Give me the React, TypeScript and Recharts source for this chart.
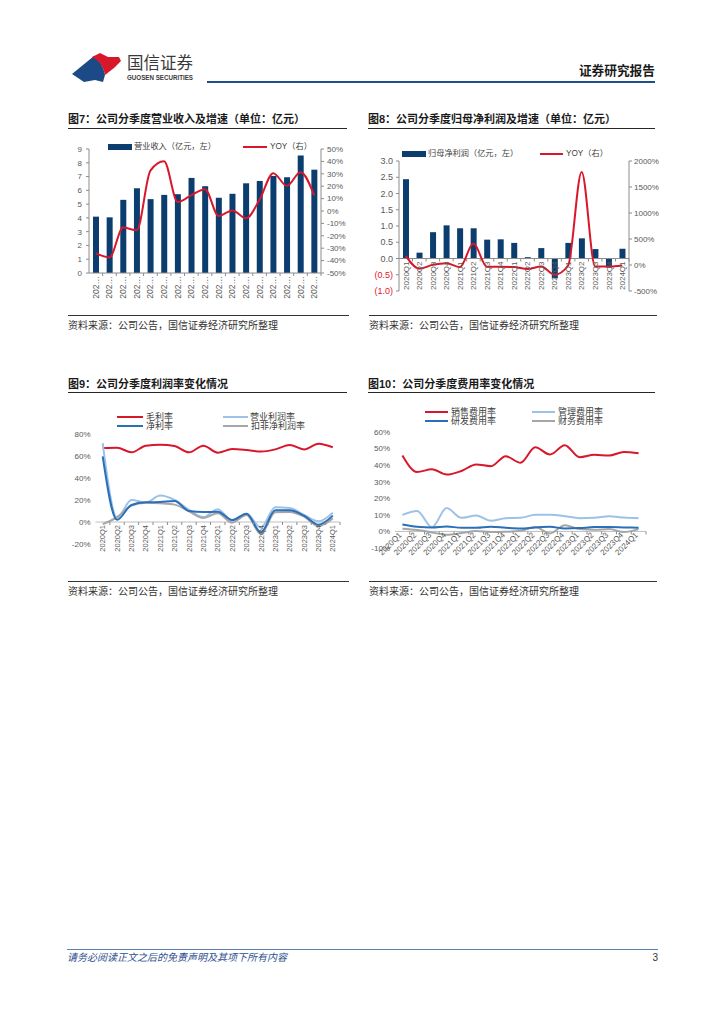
import React from 'react'
import { ComposedChart, Bar, Line, XAxis, YAxis, ReferenceLine } from 'recharts'

// 季度
const quarters = ['2020Q1', '2020Q2', '2020Q3', '2020Q4', '2021Q1', '2021Q2', '2021Q3', '2021Q4', '2022Q1', '2022Q2', '2022Q3', '2022Q4', '2023Q1', '2023Q2', '2023Q3', '2023Q4', '2024Q1']

// 图7 营业收入（亿元）及同比（%）
const revenue = [4.09, 4.04, 5.31, 6.15, 5.36, 5.67, 5.72, 6.9, 6.3, 5.46, 5.75, 6.51, 6.68, 7.04, 6.95, 8.53, 7.5]
const revenueYoy = [-34.2, -37.4, -13.4, -15.5, 32.6, 40.1, 7.2, 12.8, 17.6, -4, 0.5, -5.9, 9.1, 30.5, 20.3, 31.3, 12.6]
const revenueTicks = [0, 1, 2, 3, 4, 5, 6, 7, 8, 9]
const revenueYoyTicks = [-50, -40, -30, -20, -10, 0, 10, 20, 30, 40, 50]

// 图8 归母净利润（亿元）及同比（%）
const netProfit = [2.44, 0.18, 0.81, 1.02, 0.93, 0.93, 0.58, 0.59, 0.48, 0.04, 0.32, -0.61, 0.48, 0.62, 0.29, -0.28, 0.3]
const netProfitYoy = [176, -70, 4, 36, -41, 412, -35, -35, -40, -79, -28, -187, -10, 1790, -30, -30, -10]
const netProfitTicks = [-1, -0.5, 0, 0.5, 1, 1.5, 2, 2.5, 3]
const netProfitYoyTicks = [-500, 0, 500, 1000, 1500, 2000]

// 图9 利润率（%）
const grossMargin = [67.3, 67.6, 63.3, 69.4, 70.3, 69, 63.3, 69.4, 63, 66.4, 65.5, 64, 66, 70, 66, 71.2, 67.9]
const opMargin = [71.8, 4, 20, 17.6, 24, 20, 11, 4.5, 11.5, 1.2, 7.6, -5, 13.3, 12.7, 6.4, 0.6, 8.5]
const netMargin = [59.7, 2, 15.5, 17.9, 18.2, 19, 10, 9, 9.4, 1.8, 7.6, -9.4, 10.6, 10.6, 5.8, -2.4, 5.8]
const deductedMargin = [-2, 4.5, 15, 17.6, 17, 15.8, 9.7, 3.6, 7.9, -0.6, 6.4, -10.9, 8.8, 9, 4.8, -3.6, 3.3]
const marginTicks = [-20, 0, 20, 40, 60, 80]

// 图10 费用率（%）
const sellingRate = [45.8, 35.9, 37.5, 34.3, 36.5, 40.4, 39.4, 45.4, 41.4, 50.8, 46.4, 52, 44.8, 46.2, 45.8, 48, 47.2]
const adminRate = [10, 12.4, 2.6, 14.1, 8.2, 9.6, 6.4, 8, 8.2, 10, 10, 9.2, 8, 8.2, 9.2, 8.4, 8]
const rdRate = [4.2, 2.8, 2.4, 3, 2.2, 2.2, 2.8, 2.2, 1.8, 2.4, 2.8, 1.8, 2, 2.6, 2.6, 2.4, 2.2]
const financeRate = [1.6, 0.8, -0.6, -2, -1, 0.2, -0.4, -0.2, 0.4, 2.6, -1.2, 3.8, 1.4, 1, 1.4, -0.4, 1.4]
const expenseTicks = [-10, 0, 10, 20, 30, 40, 50, 60]

const FONT = '"Liberation Sans", Arial, "Noto Sans CJK SC", sans-serif'
const NAVY = '#0b3d6f'
const RED = '#d9172b'
const LIGHT_BLUE = '#9cc2e8'
const BLUE = '#2a6fb8'
const GREY = '#a6a6a6'
const AXIS = '#8c8c8c'
const LABEL = '#595959'

const pct = (v: number) => `${v}%`

function QuarterTick({ x, payload, baseY, angle, band, fontSize, short }: any) {
  const text = short ? payload.value.slice(0, 3) + '…' : payload.value
  return (
    <g transform={`translate(${x},${baseY})`}>
      <line x1={band / 2} x2={band / 2} y1={0} y2={3} stroke={AXIS} />
      <text x={-3} y={0} dy="0.35em" transform={`rotate(${angle})`} textAnchor="end" fontSize={fontSize} fill={LABEL} fontFamily={FONT}>
        {text}
      </text>
    </g>
  )
}

function ProfitTick({ x, y, payload }: any) {
  const v = payload.value
  const neg = v < 0
  return (
    <text x={x} y={y} dy="0.35em" textAnchor="end" fontSize={9} fill={neg ? '#e0202a' : LABEL} fontFamily={FONT}>
      {neg ? `(${Math.abs(v).toFixed(1)})` : v.toFixed(1)}
    </text>
  )
}

function Box({ left, top, children }: any) {
  return <div style={{ position: 'absolute', left, top }}>{children}</div>
}

function Title({ left, top, width, lineTop, text }: any) {
  return (
    <>
      <div style={{ position: 'absolute', left, top, fontSize: 11, lineHeight: '14px', fontWeight: 'bold', color: '#1a1a1a', whiteSpace: 'nowrap' }}>{text}</div>
      <div style={{ position: 'absolute', left, top: lineTop, width, height: 0, borderTop: '1.5px solid #262626' }} />
    </>
  )
}

function Source({ left, top, width, lineTop }: any) {
  return (
    <>
      <div style={{ position: 'absolute', left, top: lineTop, width, height: 0, borderTop: '1px solid #333' }} />
      <div style={{ position: 'absolute', left, top, fontSize: 10, lineHeight: '12px', color: '#333', whiteSpace: 'nowrap' }}>资料来源：公司公告，国信证券经济研究所整理</div>
    </>
  )
}

function LegendItem({ x, y, swatch, color, label, textX, fontSize = 9 }: any) {
  return (
    <>
      {swatch.kind === 'bar' ? (
        <div style={{ position: 'absolute', left: x, top: y - 3, width: swatch.w, height: 6, background: color }} />
      ) : (
        <div style={{ position: 'absolute', left: x, top: y - 1, width: swatch.w, height: 2, background: color }} />
      )}
      <div style={{ position: 'absolute', left: textX, top: y - 6, fontSize, lineHeight: '12px', color: '#404040', whiteSpace: 'nowrap' }}>{label}</div>
    </>
  )
}

function RevenueChart() {
  const data = quarters.map((q, i) => ({ q, revenue: revenue[i], yoy: revenueYoy[i] }))
  const band = (300 - 29 - 39) / quarters.length
  return (
    <ComposedChart width={300} height={175} data={data} margin={{ top: 14, right: 0, bottom: 0, left: 0 }}>
      <XAxis dataKey="q" scale="band" height={37} interval={0} axisLine={{ stroke: AXIS }} tickLine={false}
        tick={(p: any) => <QuarterTick {...p} baseY={138} angle={-90} band={band} fontSize={8.5} short />} />
      <YAxis yAxisId="left" domain={[0, 9]} ticks={revenueTicks} interval={0} width={29} tickSize={3} tickMargin={4}
        axisLine={{ stroke: AXIS }} tickLine={{ stroke: AXIS }} tick={{ fontSize: 8, fill: LABEL, fontFamily: FONT }} />
      <YAxis yAxisId="right" orientation="right" domain={[-50, 50]} ticks={revenueYoyTicks} interval={0} width={39} tickSize={3} tickMargin={3}
        axisLine={{ stroke: AXIS }} tickLine={{ stroke: AXIS }} tickFormatter={pct} tick={{ fontSize: 8, fill: LABEL, fontFamily: FONT }} />
      <Bar yAxisId="left" dataKey="revenue" fill={NAVY} barSize={6} isAnimationActive={false} />
      <Line yAxisId="right" dataKey="yoy" type="monotone" stroke={RED} strokeWidth={2} dot={false} activeDot={false} isAnimationActive={false} />
    </ComposedChart>
  )
}

function ProfitChart() {
  const data = quarters.map((q, i) => ({ q, profit: netProfit[i], yoy: netProfitYoy[i] }))
  const band = (300 - 39 - 31) / quarters.length
  const zeroY = 11 + 130 * 3 / 4
  return (
    <ComposedChart width={300} height={150} data={data} margin={{ top: 11, right: 0, bottom: 0, left: 0 }}>
      <XAxis dataKey="q" scale="band" height={9} interval={0} axisLine={false} tickLine={false}
        tick={(p: any) => <QuarterTick {...p} baseY={zeroY} angle={-90} band={band} fontSize={8} />} />
      <YAxis yAxisId="left" domain={[-1, 3]} ticks={netProfitTicks} interval={0} width={39} tickSize={3} tickMargin={3}
        axisLine={{ stroke: AXIS }} tickLine={{ stroke: AXIS }} tick={<ProfitTick />} />
      <YAxis yAxisId="right" orientation="right" domain={[-500, 2000]} ticks={netProfitYoyTicks} interval={0} width={31} tickSize={3} tickMargin={2}
        axisLine={{ stroke: AXIS }} tickLine={{ stroke: AXIS }} tickFormatter={pct} tick={{ fontSize: 8, fill: LABEL, fontFamily: FONT }} />
      <ReferenceLine yAxisId="left" y={0} stroke={AXIS} />
      <Bar yAxisId="left" dataKey="profit" fill={NAVY} barSize={6} isAnimationActive={false} />
      <Line yAxisId="right" dataKey="yoy" type="monotone" stroke={RED} strokeWidth={2} dot={false} activeDot={false} isAnimationActive={false} />
    </ComposedChart>
  )
}

function MarginChart() {
  const data = quarters.map((q, i) => ({ q, gross: grossMargin[i], op: opMargin[i], net: netMargin[i], ded: deductedMargin[i] }))
  const band = (300 - 35.5 - 20) / quarters.length
  const zeroY = 39 + 110 * 0.8
  return (
    <ComposedChart width={300} height={185} data={data} margin={{ top: 39, right: 20, bottom: 0, left: 0 }}>
      <XAxis dataKey="q" scale="band" height={36} interval={0} axisLine={false} tickLine={false}
        tick={(p: any) => <QuarterTick {...p} baseY={zeroY} angle={-90} band={band} fontSize={7.5} />} />
      <YAxis domain={[-20, 80]} ticks={marginTicks} interval={0} width={35.5} tickSize={3} tickMargin={2}
        axisLine={false} tickLine={false} tickFormatter={pct} tick={{ fontSize: 8, fill: LABEL, fontFamily: FONT }} />
      <ReferenceLine y={0} stroke="#bfbfbf" />
      <Line dataKey="gross" type="monotone" stroke={RED} strokeWidth={2} dot={false} activeDot={false} isAnimationActive={false} />
      <Line dataKey="op" type="monotone" stroke={LIGHT_BLUE} strokeWidth={2} dot={false} activeDot={false} isAnimationActive={false} />
      <Line dataKey="ded" type="monotone" stroke={GREY} strokeWidth={2} dot={false} activeDot={false} isAnimationActive={false} />
      <Line dataKey="net" type="monotone" stroke={BLUE} strokeWidth={2} dot={false} activeDot={false} isAnimationActive={false} />
    </ComposedChart>
  )
}

function ExpenseChart() {
  const data = quarters.map((q, i) => ({ q, selling: sellingRate[i], admin: adminRate[i], rd: rdRate[i], fin: financeRate[i] }))
  const band = (300 - 35 - 14) / quarters.length
  const zeroY = 37 + 116 * 60 / 70
  return (
    <ComposedChart width={300} height={185} data={data} margin={{ top: 37, right: 14, bottom: 0, left: 0 }}>
      <XAxis dataKey="q" scale="band" height={32} interval={0} axisLine={false} tickLine={false}
        tick={(p: any) => <QuarterTick {...p} baseY={zeroY} angle={-45} band={band} fontSize={8} />} />
      <YAxis domain={[-10, 60]} ticks={expenseTicks} interval={0} width={35} tickSize={3} tickMargin={2}
        axisLine={false} tickLine={false} tickFormatter={pct} tick={{ fontSize: 8, fill: LABEL, fontFamily: FONT }} />
      <ReferenceLine y={0} stroke="#bfbfbf" />
      <Line dataKey="selling" type="monotone" stroke={RED} strokeWidth={2} dot={false} activeDot={false} isAnimationActive={false} />
      <Line dataKey="admin" type="monotone" stroke={LIGHT_BLUE} strokeWidth={2} dot={false} activeDot={false} isAnimationActive={false} />
      <Line dataKey="fin" type="monotone" stroke={GREY} strokeWidth={2} dot={false} activeDot={false} isAnimationActive={false} />
      <Line dataKey="rd" type="monotone" stroke={BLUE} strokeWidth={2} dot={false} activeDot={false} isAnimationActive={false} />
    </ComposedChart>
  )
}

function Header() {
  return (
    <svg width={724} height={100} style={{ position: 'absolute', left: 0, top: 0 }}>
      <path d="M72 74 L94 56 C100 61 104 68 105 75 L103 82 L95 80 L84 82 Z" fill="#1c4a87" />
      <path d="M92 57 L100 53 L108 57 L119 57 L121 61 L114 68 L105 75 C104 68 100 61 92 57 Z" fill="#d7182a" />
      <text x={127} y={68.5} fontSize={16.5} fill="#3a3a3a" fontFamily={FONT}>国信证券</text>
      <text x={127} y={79.5} fontSize={7.5} fontWeight="bold" fill="#3a3a3a" fontFamily={FONT} textLength={66} lengthAdjust="spacingAndGlyphs">GUOSEN SECURITIES</text>
      <text x={655} y={74.5} textAnchor="end" fontSize={12.7} fontWeight="bold" fill="#1a1a1a" fontFamily={FONT}>证券研究报告</text>
      <line x1={207} x2={655} y1={82} y2={82} stroke="#1f4e8c" strokeWidth={2} />
    </svg>
  )
}

export default function App() {
  return (
    <div style={{ position: 'absolute', left: 0, top: 0, width: 724, height: 1024, background: '#fff', overflow: 'hidden', fontFamily: FONT }}>
      <Header />

      <Title left={68} top={112} width={279} lineTop={128} text="图7：公司分季度营业收入及增速（单位：亿元）" />
      <Title left={368} top={112} width={287} lineTop={128} text="图8：公司分季度归母净利润及增速（单位：亿元）" />

      <Box left={60} top={135}><RevenueChart /></Box>
      <LegendItem x={108} y={147} swatch={{ kind: 'bar', w: 24 }} color={NAVY} label="营业收入（亿元，左）" textX={134} fontSize={8.2} />
      <LegendItem x={243} y={147} swatch={{ kind: 'line', w: 24 }} color={RED} label="YOY（右）" textX={270} fontSize={8.2} />

      <Box left={360} top={150}><ProfitChart /></Box>
      <LegendItem x={402} y={154} swatch={{ kind: 'bar', w: 24 }} color={NAVY} label="归母净利润（亿元，左）" textX={428} fontSize={8.2} />
      <LegendItem x={540} y={154} swatch={{ kind: 'line', w: 23 }} color={RED} label="YOY（右）" textX={566} fontSize={8.2} />

      <Source left={68} top={320} width={281} lineTop={315} />
      <Source left={369} top={320} width={288} lineTop={315} />

      <Title left={68} top={377} width={279} lineTop={392} text="图9：公司分季度利润率变化情况" />
      <Title left={368} top={377} width={287} lineTop={392} text="图10：公司分季度费用率变化情况" />

      <Box left={60} top={395}><MarginChart /></Box>
      <LegendItem x={117} y={417} swatch={{ kind: 'line', w: 26 }} color={RED} label="毛利率" textX={146} />
      <LegendItem x={223} y={417} swatch={{ kind: 'line', w: 25 }} color={LIGHT_BLUE} label="营业利润率" textX={250} />
      <LegendItem x={117} y={426} swatch={{ kind: 'line', w: 26 }} color={BLUE} label="净利率" textX={146} />
      <LegendItem x={223} y={426} swatch={{ kind: 'line', w: 25 }} color={GREY} label="扣非净利润率" textX={251} />

      <Box left={360} top={395}><ExpenseChart /></Box>
      <LegendItem x={425} y={412} swatch={{ kind: 'line', w: 23 }} color={RED} label="销售费用率" textX={451} />
      <LegendItem x={532} y={412} swatch={{ kind: 'line', w: 23 }} color={LIGHT_BLUE} label="管理费用率" textX={558} />
      <LegendItem x={425} y={421} swatch={{ kind: 'line', w: 23 }} color={BLUE} label="研发费用率" textX={451} />
      <LegendItem x={532} y={421} swatch={{ kind: 'line', w: 23 }} color={GREY} label="财务费用率" textX={558} />

      <Source left={68} top={586} width={281} lineTop={581} />
      <Source left={369} top={586} width={288} lineTop={581} />

      <div style={{ position: 'absolute', left: 67, top: 949, width: 591, height: 0, borderTop: '1px solid #5b7fae' }} />
      <div style={{ position: 'absolute', left: 67, top: 952, fontSize: 10, lineHeight: '12px', fontStyle: 'italic', color: '#2f4f8f', whiteSpace: 'nowrap' }}>请务必阅读正文之后的免责声明及其项下所有内容</div>
      <div style={{ position: 'absolute', right: 724 - 658, top: 952, fontSize: 10, lineHeight: '12px', color: '#333' }}>3</div>
    </div>
  )
}
